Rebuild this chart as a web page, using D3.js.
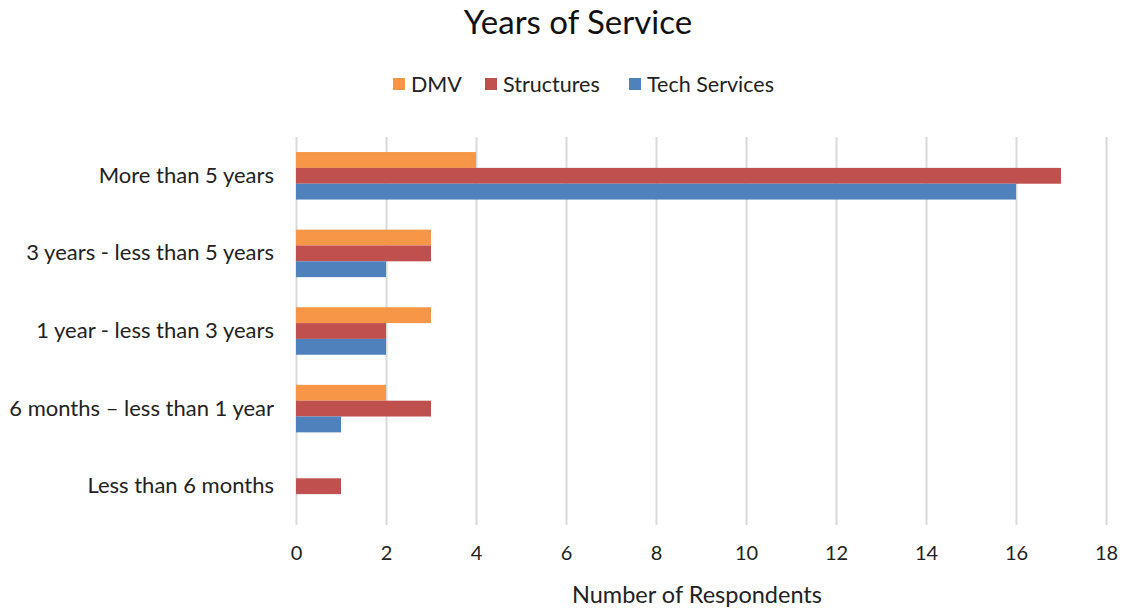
<!DOCTYPE html>
<html>
<head>
    <script src="https://d3js.org/d3.v7.min.js"></script>
    <title>Years of Service</title>
</head>
<style>
    body { margin: 0; background: #fff; font-family: Lato, "Open Sans", sans-serif; }
    .grid line { stroke: #d9d9d9; stroke-width: 2; }
    .grid path { display: none; }
    .axis path, .axis line { display: none; }
</style>
<body>
<div id="chart"></div>
<script>
    // data
    const categories = ["More than 5 years", "3 years - less than 5 years", "1 year - less than 3 years",
        "6 months \u2013 less than 1 year", "Less than 6 months"];
    const seriesNames = ["DMV", "Structures", "Tech Services"];
    const dmv = [4, 3, 3, 2, 0];
    const structures = [17, 3, 2, 3, 1];
    const techServices = [16, 2, 2, 1, 0];
    const xTicks = [0, 2, 4, 6, 8, 10, 12, 14, 16, 18];
    const colors = ["#f79646", "#c0504d", "#4f81bd"];

    const series = [dmv, structures, techServices];

    const W = 1122, H = 609;
    const margin = {top: 137, right: 16, bottom: 84, left: 296};
    const width = W - margin.left - margin.right;
    const height = H - margin.top - margin.bottom;

    const svg = d3.select("#chart").append("svg")
        .attr("width", W)
        .attr("height", H);

    const g = svg.append("g")
        .attr("transform", `translate(${margin.left}, ${margin.top})`);

    const xScale = d3.scaleLinear().domain([0, 18]).range([0, 810]);

    const yScale = d3.scaleBand()
        .domain(categories)
        .range([0, height])
        .paddingInner(0.388)
        .paddingOuter(0.194);

    const inner = d3.scaleBand()
        .domain(seriesNames)
        .range([0, yScale.bandwidth()]);

    // vertical gridlines
    g.append("g")
        .attr("class", "grid")
        .call(d3.axisBottom(xScale).tickValues(xTicks).tickSize(height).tickFormat(""));

    // bars
    series.forEach(function(vals, si) {
        g.selectAll(".bar" + si)
            .data(vals)
            .join("rect")
            .attr("class", "bar" + si)
            .attr("x", xScale(0))
            .attr("y", (d, i) => yScale(categories[i]) + inner(seriesNames[si]))
            .attr("width", d => xScale(d) - xScale(0))
            .attr("height", inner.bandwidth())
            .attr("fill", colors[si]);
    });

    // x axis labels
    g.append("g")
        .attr("class", "axis")
        .attr("transform", `translate(0, ${height})`)
        .call(d3.axisBottom(xScale).tickValues(xTicks).tickSize(0).tickPadding(21))
        .selectAll("text")
        .attr("font-family", "Lato, sans-serif")
        .attr("font-size", "20px")
        .attr("fill", "#222");

    // y axis labels
    g.append("g")
        .attr("class", "axis")
        .call(d3.axisLeft(yScale).tickSize(0).tickPadding(22))
        .selectAll("text")
        .attr("font-family", "Lato, sans-serif")
        .attr("font-size", "22px")
        .attr("fill", "#222");

    // axis title
    svg.append("text")
        .attr("x", 697)
        .attr("y", 603)
        .attr("text-anchor", "middle")
        .attr("font-size", "23.5px")
        .attr("fill", "#222")
        .text("Number of Respondents");

    // title
    svg.append("text")
        .attr("x", 578)
        .attr("y", 34)
        .attr("text-anchor", "middle")
        .attr("font-size", "33px")
        .attr("fill", "#111")
        .text("Years of Service");

    // legend
    const legendX = [393, 485, 629];
    const legend = svg.append("g");
    seriesNames.forEach(function(name, i) {
        legend.append("rect")
            .attr("x", legendX[i])
            .attr("y", 78)
            .attr("width", 12)
            .attr("height", 12)
            .attr("fill", colors[i]);
        legend.append("text")
            .attr("x", legendX[i] + 18)
            .attr("y", 92)
            .attr("font-size", "21.5px")
            .attr("fill", "#222")
            .text(name);
    });
</script>
</body>
</html>
